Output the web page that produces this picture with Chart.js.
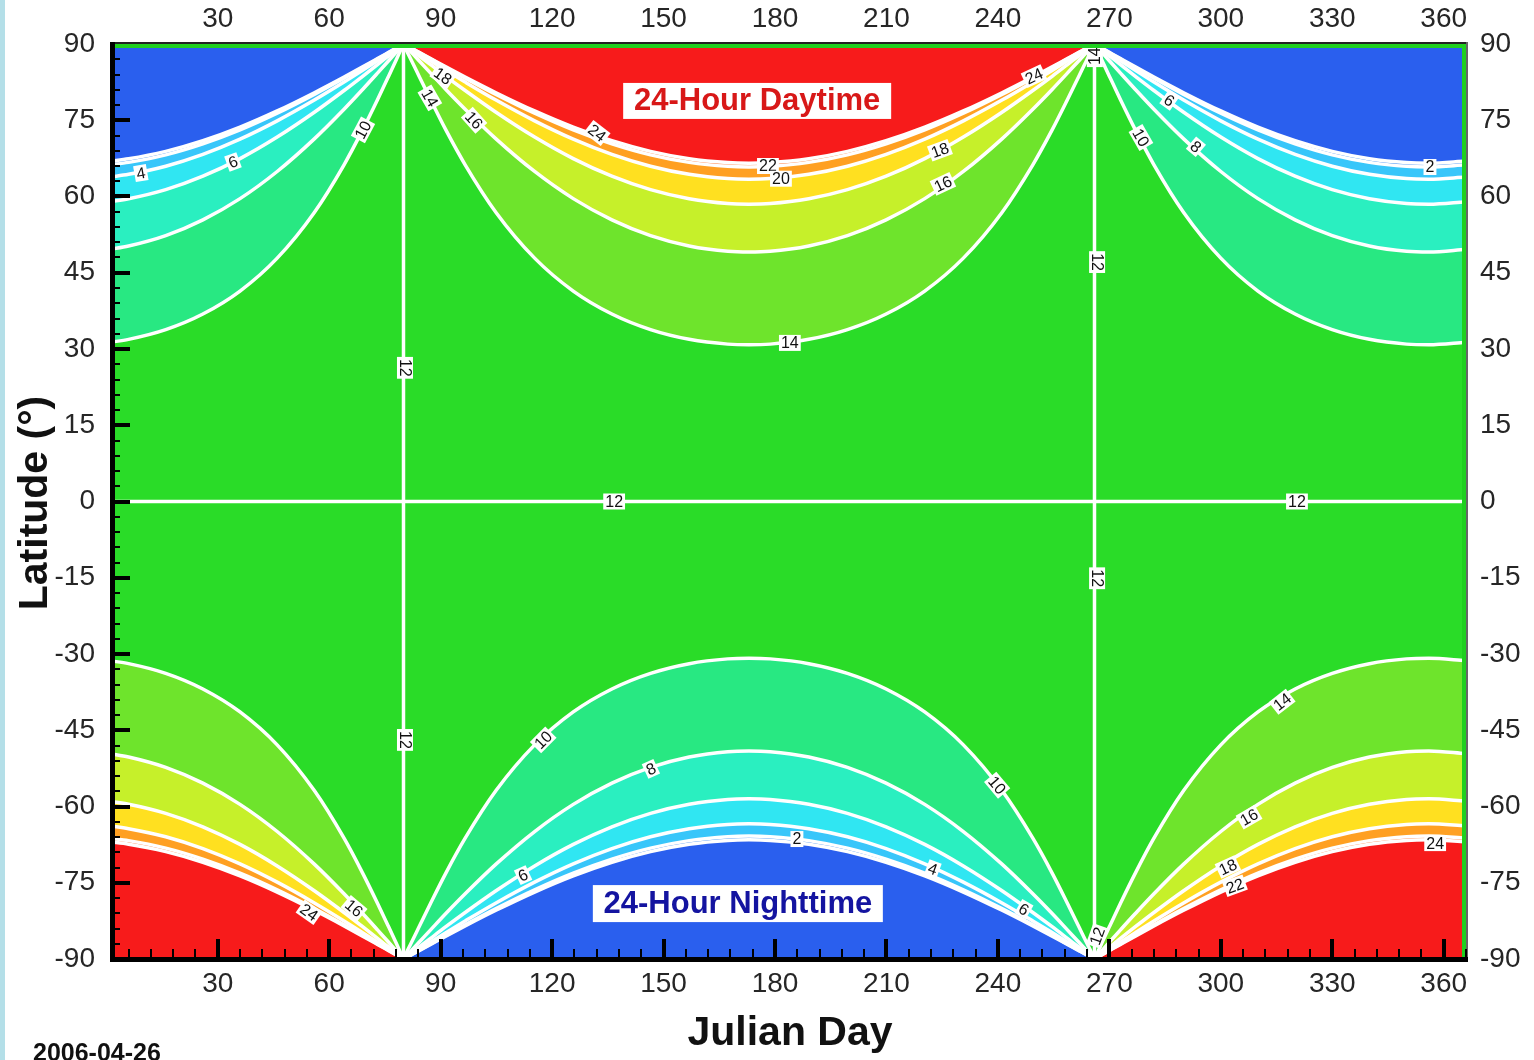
<!DOCTYPE html>
<html><head><meta charset="utf-8">
<script src="https://cdn.jsdelivr.net/npm/chart.js@4.4.1/dist/chart.umd.min.js"></script>
<style>html,body{margin:0;padding:0;background:#fff;overflow:hidden}canvas{display:block}</style>
</head><body>
<canvas id="c" width="1534" height="1060"></canvas>
<script>
// ---- tick labels ----
const xTicks = [30,60,90,120,150,180,210,240,270,300,330,360];
const yTicks = [-90,-75,-60,-45,-30,-15,0,15,30,45,60,75,90];

// ---- day samples ----
const winterLateDays  = [266,267,268,270,273,277,282,290,300,310,320,330,340,350,356,366];
const winterEarlyDays = [1,6,16,26,36,46,56,64,69,73,76,78,79,80];
const summerDays = [80,81,82.1,84.2,87.3,91.4,96.6,104.9,115.3,125.7,136.1,146.5,156.9,167.3,173,178.7,189.1,199.5,209.9,220.3,230.7,241.1,249.4,254.6,258.7,261.8,263.9,265,266];
const equinoxDays = [80, 266];
const equatorLat = 0;

// ---- north, winter half (short days): latitude of contour, days 266..366 ----
const nwl10 = [90,88.41,86.82,83.67,79.03,73.10,66.24,56.87,47.88,41.40,36.88,33.81,31.90,30.96,30.83,31.32];
const nwl8  = [90,89.18,88.35,86.71,84.27,81.06,77.17,71.34,64.92,59.58,55.40,52.30,50.26,49.21,49.07,49.61];
const nwl6  = [90,89.42,88.84,87.68,85.94,83.65,80.85,76.57,71.69,67.45,63.99,61.34,59.55,58.61,58.49,58.98];
const nwl4  = [90,89.52,89.05,88.10,86.68,84.81,82.51,78.97,74.88,71.28,68.28,65.95,64.36,63.52,63.40,63.84];
const nwl2  = [90,89.57,89.15,88.30,87.03,85.34,83.28,80.08,76.38,73.10,70.35,68.19,66.71,65.94,65.82,66.24];
const nwl0  = [90,89.59,89.18,88.36,87.13,85.50,83.50,80.42,76.83,73.64,70.97,68.87,67.42,66.67,66.56,66.96];
// days 1..80
const nwe10 = [31.32,31.90,33.81,36.88,41.40,47.88,56.87,66.24,73.10,79.03,83.67,86.82,88.41,90];
const nwe8  = [49.61,50.26,52.30,55.40,59.58,64.92,71.34,77.17,81.06,84.27,86.71,88.35,89.18,90];
const nwe6  = [58.98,59.55,61.34,63.99,67.45,71.69,76.57,80.85,83.65,85.94,87.68,88.84,89.42,90];
const nwe4  = [63.84,64.36,65.95,68.28,71.28,74.88,78.97,82.51,84.81,86.68,88.10,89.05,89.52,90];
const nwe2  = [66.24,66.71,68.19,70.35,73.10,76.38,80.08,83.28,85.34,87.03,88.30,89.15,89.57,90];
const nwe0  = [66.96,67.42,68.87,70.97,73.64,76.83,80.42,83.50,85.50,87.13,88.36,89.18,89.59,90];

// ---- north, summer half (long days) ----
const ns14 = [90,88.41,86.82,83.67,79.03,73.10,66.24,56.87,47.88,41.40,36.88,33.81,31.90,30.96,30.83,30.96,31.90,33.81,36.88,41.40,47.88,56.87,66.24,73.10,79.03,83.67,86.82,88.41,90];
const ns16 = [90,89.18,88.35,86.71,84.27,81.06,77.17,71.34,64.92,59.58,55.40,52.30,50.26,49.21,49.07,49.21,50.26,52.30,55.40,59.58,64.92,71.34,77.17,81.06,84.27,86.71,88.35,89.18,90];
const ns18 = [90,89.42,88.84,87.68,85.94,83.65,80.85,76.57,71.69,67.45,63.99,61.34,59.55,58.61,58.49,58.61,59.55,61.34,63.99,67.45,71.69,76.57,80.85,83.65,85.94,87.68,88.84,89.42,90];
const ns20 = [90,89.52,89.05,88.10,86.68,84.81,82.51,78.97,74.88,71.28,68.28,65.95,64.36,63.52,63.40,63.52,64.36,65.95,68.28,71.28,74.88,78.97,82.51,84.81,86.68,88.10,89.05,89.52,90];
const ns22 = [90,89.57,89.15,88.30,87.03,85.34,83.28,80.08,76.38,73.10,70.35,68.19,66.71,65.94,65.82,65.94,66.71,68.19,70.35,73.10,76.38,80.08,83.28,85.34,87.03,88.30,89.15,89.57,90];
const ns24 = [90,89.59,89.18,88.36,87.13,85.50,83.50,80.42,76.83,73.64,70.97,68.87,67.42,66.67,66.56,66.67,67.42,68.87,70.97,73.64,76.83,80.42,83.50,85.50,87.13,88.36,89.18,89.59,90];

// ---- south, days 80..266 (short days) ----
const ss10 = [-90,-88.41,-86.82,-83.67,-79.03,-73.10,-66.24,-56.87,-47.88,-41.40,-36.88,-33.81,-31.90,-30.96,-30.83,-30.96,-31.90,-33.81,-36.88,-41.40,-47.88,-56.87,-66.24,-73.10,-79.03,-83.67,-86.82,-88.41,-90];
const ss8  = [-90,-89.18,-88.35,-86.71,-84.27,-81.06,-77.17,-71.34,-64.92,-59.58,-55.40,-52.30,-50.26,-49.21,-49.07,-49.21,-50.26,-52.30,-55.40,-59.58,-64.92,-71.34,-77.17,-81.06,-84.27,-86.71,-88.35,-89.18,-90];
const ss6  = [-90,-89.42,-88.84,-87.68,-85.94,-83.65,-80.85,-76.57,-71.69,-67.45,-63.99,-61.34,-59.55,-58.61,-58.49,-58.61,-59.55,-61.34,-63.99,-67.45,-71.69,-76.57,-80.85,-83.65,-85.94,-87.68,-88.84,-89.42,-90];
const ss4  = [-90,-89.52,-89.05,-88.10,-86.68,-84.81,-82.51,-78.97,-74.88,-71.28,-68.28,-65.95,-64.36,-63.52,-63.40,-63.52,-64.36,-65.95,-68.28,-71.28,-74.88,-78.97,-82.51,-84.81,-86.68,-88.10,-89.05,-89.52,-90];
const ss2  = [-90,-89.57,-89.15,-88.30,-87.03,-85.34,-83.28,-80.08,-76.38,-73.10,-70.35,-68.19,-66.71,-65.94,-65.82,-65.94,-66.71,-68.19,-70.35,-73.10,-76.38,-80.08,-83.28,-85.34,-87.03,-88.30,-89.15,-89.57,-90];
const ss0  = [-90,-89.59,-89.18,-88.36,-87.13,-85.50,-83.50,-80.42,-76.83,-73.64,-70.97,-68.87,-67.42,-66.67,-66.56,-66.67,-67.42,-68.87,-70.97,-73.64,-76.83,-80.42,-83.50,-85.50,-87.13,-88.36,-89.18,-89.59,-90];

// ---- south, long days: days 266..366 ----
const swl14 = [-90,-88.41,-86.82,-83.67,-79.03,-73.10,-66.24,-56.87,-47.88,-41.40,-36.88,-33.81,-31.90,-30.96,-30.83,-31.32];
const swl16 = [-90,-89.18,-88.35,-86.71,-84.27,-81.06,-77.17,-71.34,-64.92,-59.58,-55.40,-52.30,-50.26,-49.21,-49.07,-49.61];
const swl18 = [-90,-89.42,-88.84,-87.68,-85.94,-83.65,-80.85,-76.57,-71.69,-67.45,-63.99,-61.34,-59.55,-58.61,-58.49,-58.98];
const swl20 = [-90,-89.52,-89.05,-88.10,-86.68,-84.81,-82.51,-78.97,-74.88,-71.28,-68.28,-65.95,-64.36,-63.52,-63.40,-63.84];
const swl22 = [-90,-89.57,-89.15,-88.30,-87.03,-85.34,-83.28,-80.08,-76.38,-73.10,-70.35,-68.19,-66.71,-65.94,-65.82,-66.24];
const swl24 = [-90,-89.59,-89.18,-88.36,-87.13,-85.50,-83.50,-80.42,-76.83,-73.64,-70.97,-68.87,-67.42,-66.67,-66.56,-66.96];
// days 1..80
const swe14 = [-31.32,-31.90,-33.81,-36.88,-41.40,-47.88,-56.87,-66.24,-73.10,-79.03,-83.67,-86.82,-88.41,-90];
const swe16 = [-49.61,-50.26,-52.30,-55.40,-59.58,-64.92,-71.34,-77.17,-81.06,-84.27,-86.71,-88.35,-89.18,-90];
const swe18 = [-58.98,-59.55,-61.34,-63.99,-67.45,-71.69,-76.57,-80.85,-83.65,-85.94,-87.68,-88.84,-89.42,-90];
const swe20 = [-63.84,-64.36,-65.95,-68.28,-71.28,-74.88,-78.97,-82.51,-84.81,-86.68,-88.10,-89.05,-89.52,-90];
const swe22 = [-66.24,-66.71,-68.19,-70.35,-73.10,-76.38,-80.08,-83.28,-85.34,-87.03,-88.30,-89.15,-89.57,-90];
const swe24 = [-66.96,-67.42,-68.87,-70.97,-73.64,-76.83,-80.42,-83.50,-85.50,-87.13,-88.36,-89.18,-89.59,-90];

// ---- contour labels: text, day, latitude, angle ----
const contourLabels = [
 ['10',69.1,73.1,-62],['6',34.1,66.8,-20],['4',9.3,64.6,-10],
 ['18',90.6,83.7,35],['14',87.1,79.4,60],['16',99.0,75.0,48],['24',132.1,72.5,38],
 ['22',178.1,66.0,0],['20',181.6,63.5,0],['18',224.4,69.1,-20],['16',225.2,62.5,-25],['24',249.7,83.7,-25],
 ['14',266.1,87.6,-90],['6',286.1,78.9,35],['10',278.5,71.6,60],['8',293.3,69.8,40],['2',356.3,65.8,0],
 ['12',80.4,26.3,90],['12',266.7,47.1,90],['12',136.7,0,0],['12',320.5,0,0],['14',184.0,31.2,0],
 ['12',80.4,-46.9,90],['10',117.6,-46.9,-45],['8',146.6,-52.6,-25],['10',239.8,-55.8,50],
 ['2',185.9,-66.4,0],['4',222.5,-72.3,20],['6',247.0,-80.2,30],['6',112.2,-73.5,-25],
 ['14',316.5,-39.4,-38],['16',307.6,-62.1,-30],['18',301.9,-71.9,-25],['22',303.8,-75.6,-20],
 ['24',357.7,-67.2,0],['12',266.7,-15.1,90],['16',66.7,-80.0,40],['24',54.6,-80.8,35],['12',266.7,-85.5,-70]
];

const GREEN = '#2adc28';
const C = {
  p0:'#2a5fee', p2:'#2f84f2', p4:'#38c6fa', p6:'#30e6f2', p8:'#2aefc0', p10:'#28e882',
  p14:'#6ee42c', p16:'#c6f02a', p18:'#ffe020', p20:'#ffa022', p22:'#ff7a3a', p24:'#f71b1b'
};

function contour(days, lats, color, fill) {
  return {
    data: days.map((d, i) => ({x: d, y: lats[i]})),
    backgroundColor: color, fill: fill,
    borderColor: '#ffffff', borderWidth: 3.5, pointRadius: 0, pointHoverRadius: 0,
    cubicInterpolationMode: 'monotone', clip: 0
  };
}
function plain(points) {
  return {data: points, borderColor: '#ffffff', borderWidth: 3.5, pointRadius: 0, fill: false, clip: 0};
}

const datasets = [
  plain([{x: equinoxDays[0], y: -90}, {x: equinoxDays[0], y: 90}]),
  plain([{x: equinoxDays[1], y: -90}, {x: equinoxDays[1], y: 90}]),
  plain([{x: 1, y: equatorLat}, {x: 366, y: equatorLat}]),
  // north, short days
  contour(winterLateDays, nwl0, C.p0, 'end'), contour(winterLateDays, nwl2, C.p2, 'end'),
  contour(winterLateDays, nwl4, C.p4, 'end'), contour(winterLateDays, nwl6, C.p6, 'end'),
  contour(winterLateDays, nwl8, C.p8, 'end'), contour(winterLateDays, nwl10, C.p10, 'end'),
  contour(winterEarlyDays, nwe0, C.p0, 'end'), contour(winterEarlyDays, nwe2, C.p2, 'end'),
  contour(winterEarlyDays, nwe4, C.p4, 'end'), contour(winterEarlyDays, nwe6, C.p6, 'end'),
  contour(winterEarlyDays, nwe8, C.p8, 'end'), contour(winterEarlyDays, nwe10, C.p10, 'end'),
  // north, long days
  contour(summerDays, ns24, C.p24, 'end'), contour(summerDays, ns22, C.p22, 'end'),
  contour(summerDays, ns20, C.p20, 'end'), contour(summerDays, ns18, C.p18, 'end'),
  contour(summerDays, ns16, C.p16, 'end'), contour(summerDays, ns14, C.p14, 'end'),
  // south, short days
  contour(summerDays, ss0, C.p0, 'start'), contour(summerDays, ss2, C.p2, 'start'),
  contour(summerDays, ss4, C.p4, 'start'), contour(summerDays, ss6, C.p6, 'start'),
  contour(summerDays, ss8, C.p8, 'start'), contour(summerDays, ss10, C.p10, 'start'),
  // south, long days
  contour(winterLateDays, swl24, C.p24, 'start'), contour(winterLateDays, swl22, C.p22, 'start'),
  contour(winterLateDays, swl20, C.p20, 'start'), contour(winterLateDays, swl18, C.p18, 'start'),
  contour(winterLateDays, swl16, C.p16, 'start'), contour(winterLateDays, swl14, C.p14, 'start'),
  contour(winterEarlyDays, swe24, C.p24, 'start'), contour(winterEarlyDays, swe22, C.p22, 'start'),
  contour(winterEarlyDays, swe20, C.p20, 'start'), contour(winterEarlyDays, swe18, C.p18, 'start'),
  contour(winterEarlyDays, swe16, C.p16, 'start'), contour(winterEarlyDays, swe14, C.p14, 'start')
];

const FONT = '"Liberation Sans", Arial, sans-serif';
const tickFont = {family: '"Liberation Sans Narrow", "Liberation Sans", Arial, sans-serif', size: 28};
const TICKC = '#262626';

function setTicks(arr) { return (s) => { s.ticks = arr.map(v => ({value: v})); }; }

const decor = {
  id: 'decor',
  beforeDraw(chart) {
    const {ctx, chartArea: a} = chart;
    ctx.save();
    ctx.fillStyle = GREEN;
    ctx.fillRect(a.left, a.top, a.right - a.left, a.bottom - a.top);
    ctx.restore();
  },
  afterDatasetsDraw(chart) {
    const ctx = chart.ctx, xs = chart.scales.x, ys = chart.scales.y;
    ctx.save();
    ctx.font = '16px ' + FONT;
    ctx.textAlign = 'center'; ctx.textBaseline = 'middle';
    for (const [t, d, la, ang] of contourLabels) {
      const px = xs.getPixelForValue(d), py = ys.getPixelForValue(la);
      ctx.save();
      ctx.translate(px, py); ctx.rotate(ang * Math.PI / 180);
      const w = ctx.measureText(t).width;
      ctx.fillStyle = '#ffffff'; ctx.fillRect(-w / 2 - 2, -8, w + 4, 16);
      ctx.fillStyle = '#111111'; ctx.fillText(t, 0, 1);
      ctx.restore();
    }
    // region captions
    const boxes = [
      ['24-Hour Daytime', 175.2, 78.8, '#d81818', 268, 36],
      ['24-Hour Nighttime', 170.0, -79.1, '#1414a0', 290, 37]
    ];
    ctx.font = 'bold 31px ' + FONT;
    for (const [t, d, la, col, bw, bh] of boxes) {
      const px = xs.getPixelForValue(d), py = ys.getPixelForValue(la);
      ctx.fillStyle = '#ffffff'; ctx.fillRect(px - bw / 2, py - bh / 2, bw, bh);
      ctx.fillStyle = col; ctx.fillText(t, px, py + 1);
    }
    ctx.restore();
  },
  afterDraw(chart) {
    const {ctx, chartArea: a} = chart;
    const xs = chart.scales.x, ys = chart.scales.y;
    ctx.save();
    // frame: top & right
    ctx.fillStyle = '#1fd01f';
    ctx.fillRect(a.left, a.top, a.right - a.left, 4);
    ctx.fillRect(a.right - 4, a.top, 4, a.bottom - a.top);
    ctx.fillStyle = '#222';
    ctx.fillRect(a.left, a.top - 2, a.right - a.left + 2, 2);
    ctx.fillStyle = '#666';
    ctx.fillRect(a.right, a.top - 2, 2, a.bottom - a.top + 4);
    // left & bottom axis lines
    ctx.fillStyle = '#000';
    ctx.fillRect(a.left, a.top - 2, 5, a.bottom - a.top + 5);
    ctx.fillRect(a.left, a.bottom - 2, a.right - a.left + 2, 5);
    // y ticks
    for (let v = -87; v < 90; v += 3) {
      const py = Math.round(ys.getPixelForValue(v));
      if (v % 15 === 0) ctx.fillRect(a.left, py - 2, 20, 4);
      else ctx.fillRect(a.left, py - 1, 10, 2);
    }
    // x ticks
    for (let v = 6; v <= 366; v += 6) {
      const px = Math.round(xs.getPixelForValue(v));
      if (v % 30 === 0) ctx.fillRect(px - 2, a.bottom - 20, 4, 20);
      else ctx.fillRect(px - 1, a.bottom - 10, 2, 10);
    }
    // axis titles
    ctx.fillStyle = '#111';
    ctx.font = 'bold 41px ' + FONT;
    ctx.textAlign = 'center'; ctx.textBaseline = 'middle';
    ctx.fillText('Julian Day', 790, 1034);
    ctx.save();
    ctx.translate(36, 503); ctx.rotate(-Math.PI / 2);
    ctx.fillText('Latitude (\u00b0)', 0, 0);
    ctx.restore();
    ctx.font = 'bold 25px ' + FONT;
    ctx.textAlign = 'left'; ctx.textBaseline = 'alphabetic';
    ctx.fillText('2006-04-26', 33, 1061);
    // left page strip
    ctx.fillStyle = '#b4dfe8';
    ctx.fillRect(0, 0, 5, 1060);
    ctx.restore();
  }
};

new Chart(document.getElementById('c'), {
  type: 'line',
  data: {datasets},
  options: {
    responsive: false, animation: false, devicePixelRatio: 1,
    layout: {padding: 0},
    plugins: {legend: {display: false}, tooltip: {enabled: false}, filler: {drawTime: 'beforeDatasetsDraw'}},
    events: [],
    scales: {
      x: {type: 'linear', position: 'bottom', min: 1, max: 366,
          afterBuildTicks: setTicks(xTicks), afterFit: s => { s.height = 101; },
          grid: {display: false, drawTicks: false}, border: {display: false},
          ticks: {font: tickFont, color: TICKC, padding: 8, maxRotation: 0, autoSkip: false}},
      x2: {type: 'linear', position: 'top', min: 1, max: 366,
          afterBuildTicks: setTicks(xTicks), afterFit: s => { s.height = 44; },
          grid: {display: false, drawTicks: false}, border: {display: false},
          ticks: {font: tickFont, color: TICKC, padding: 8, maxRotation: 0, autoSkip: false}},
      y: {type: 'linear', position: 'left', min: -90, max: 90,
          afterBuildTicks: setTicks(yTicks), afterFit: s => { s.width = 110; },
          grid: {display: false, drawTicks: false}, border: {display: false},
          ticks: {font: tickFont, color: TICKC, padding: 15, autoSkip: false}},
      y2: {type: 'linear', position: 'right', min: -90, max: 90,
          afterBuildTicks: setTicks(yTicks), afterFit: s => { s.width = 68; },
          grid: {display: false, drawTicks: false}, border: {display: false},
          ticks: {font: tickFont, color: TICKC, padding: 14, autoSkip: false}}
    }
  },
  plugins: [decor]
});
</script>
</body></html>
